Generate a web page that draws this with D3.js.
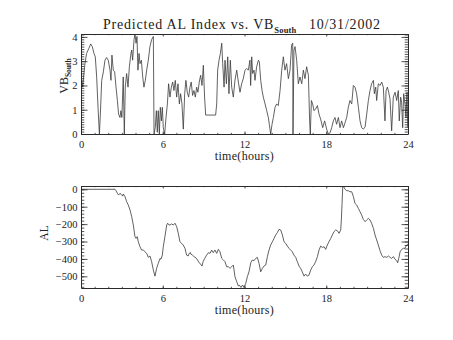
<!DOCTYPE html>
<html><head><meta charset="utf-8">
<script src="https://cdn.jsdelivr.net/npm/d3@7"></script>
<style>
body{margin:0;background:#fff}
text{font-family:"Liberation Serif","DejaVu Serif",serif;fill:#222}
</style></head>
<body><svg id="c" width="453" height="340"></svg>
<script>
// ---------------- data ----------------
const hourTicks = [0, 6, 12, 18, 24];
const hourMinor = d3.range(0, 25, 1);
const vbTicks = [0, 1, 2, 3, 4];
const vbMinor = d3.range(0, 4.11, 0.1);
const alTicks = [0, -100, -200, -300, -400, -500];
const alMinor = d3.range(-560, 1, 20);

const vbHours = [0,0.05,0.12,0.29,0.41,0.58,0.71,0.83,0.95,1.05,1.15,1.25,1.35,1.42,1.52,1.64,1.76,1.88,2.0,2.13,2.2,2.27,2.37,2.47,2.57,2.67,2.76,2.86,2.93,3.0,3.1,3.18,3.25,3.35,3.45,3.55,3.65,3.72,3.79,3.89,3.96,4.04,4.11,4.18,4.26,4.33,4.43,4.53,4.62,4.72,4.82,4.94,5.06,5.18,5.31,5.36,5.45,5.53,5.6,5.67,5.75,5.82,5.9,5.97,6.04,6.14,6.24,6.34,6.43,6.53,6.63,6.73,6.82,6.92,7.02,7.12,7.22,7.31,7.41,7.51,7.61,7.7,7.8,7.9,8.0,8.09,8.19,8.29,8.39,8.49,8.58,8.68,8.78,8.88,8.98,9.07,9.15,9.88,9.96,10.03,10.13,10.23,10.33,10.4,10.5,10.57,10.67,10.77,10.86,10.96,11.06,11.18,11.3,11.43,11.55,11.67,11.79,11.91,12.04,12.16,12.28,12.4,12.45,12.53,12.6,12.7,12.77,12.89,13.02,13.09,13.19,13.29,13.38,13.51,13.63,13.75,13.82,13.92,14.02,14.12,14.24,14.36,14.48,14.61,14.73,14.85,14.97,15.09,15.22,15.34,15.46,15.54,15.56,15.63,15.71,15.83,15.95,16.07,16.2,16.32,16.44,16.56,16.69,16.78,16.83,16.91,17.0,17.1,17.22,17.35,17.47,17.59,17.74,17.88,18.03,18.15,18.28,18.4,18.52,18.64,18.76,18.89,19.01,19.13,19.26,19.38,19.5,19.62,19.74,19.87,19.99,20.11,20.23,20.36,20.48,20.6,20.72,20.85,20.97,21.09,21.21,21.33,21.46,21.53,21.63,21.7,21.82,21.95,22.07,22.19,22.31,22.39,22.49,22.58,22.68,22.8,22.92,23.05,23.17,23.29,23.36,23.46,23.53,23.61,23.68,23.78,23.85,23.93,23.98];
const vbValues = [1.6,2.2,1.93,2.9,3.32,3.53,3.71,3.6,3.32,3.18,2.35,1.1,0,0.82,2.21,2.56,3.04,3.15,3.04,2.63,2.21,3.25,2.63,2.56,1.93,1.38,0.82,0.68,0.96,0.68,2.35,0,1.93,2.49,1.93,2.77,3.25,3.46,3.04,3.88,4.15,3.74,4.02,2.63,3.32,2.9,3.04,2.35,1.93,2.21,2.63,3.04,3.6,3.88,4.02,0,0.26,0.96,0.07,0.96,0,1.1,0.54,1.1,0.26,0,0.68,1.24,2.07,1.52,1.93,2.14,1.79,2.21,1.52,2.07,1.24,1.66,1.24,0.2,1.66,2.21,1.72,1.52,1.93,2.14,1.59,1.79,1.52,1.93,1.72,2.14,2.42,2.0,2.83,1.52,0.78,0.78,1.24,2.63,3.04,3.32,3.74,2.9,1.93,3.04,2.07,3.18,1.66,3.04,1.93,1.52,2.21,2.63,2.14,1.72,2.07,2.28,2.63,2.7,2.63,3.04,2.0,3.18,2.49,2.63,2.21,2.77,3.04,2.97,2.21,1.79,1.52,1.24,0.96,0.68,0.4,0,0.4,0.68,1.1,1.24,1.17,1.79,2.63,3.18,2.63,2.9,2.28,2.63,3.67,3.74,0,3.46,3.6,3.04,2.07,2.35,2.07,2.63,2.28,2.77,2.42,0.54,0,1.38,1.24,0.96,1.03,1.17,0.82,0.61,0.26,0.54,0.2,0,0.05,0.26,0.54,0.68,0.4,0.68,0.26,0.54,0.26,0.47,0.68,1.1,1.38,1.24,2.0,1.93,1.66,1.1,0.54,0.26,0.2,0.29,0.82,1.38,1.79,2.07,2.21,1.66,1.93,1.38,2.07,2.0,2.14,1.93,0.54,1.79,1.93,1.72,1.45,0.13,1.52,1.72,1.38,1.79,0.54,1.52,1.31,0.26,1.66,1.24,0.68,1.72,0.26];

const alHours = [0,2.5,2.57,2.67,2.76,2.86,2.96,3.06,3.1,3.23,3.35,3.47,3.6,3.72,3.84,3.96,4.04,4.13,4.2,4.33,4.45,4.57,4.7,4.82,4.94,5.06,5.18,5.31,5.43,5.55,5.67,5.8,5.87,5.97,6.04,6.16,6.29,6.36,6.46,6.53,6.65,6.78,6.9,7.02,7.14,7.26,7.38,7.5,7.63,7.75,7.87,7.94,8.04,8.06,8.18,8.3,8.43,8.55,8.67,8.8,8.88,8.96,9.08,9.22,9.35,9.47,9.59,9.71,9.83,9.96,10.08,10.2,10.33,10.45,10.57,10.69,10.82,10.94,11.06,11.18,11.3,11.43,11.55,11.62,11.74,11.86,11.96,12.09,12.21,12.33,12.46,12.58,12.7,12.82,12.94,13.07,13.19,13.31,13.43,13.56,13.68,13.8,13.92,14.05,14.17,14.29,14.41,14.53,14.66,14.78,14.9,15.02,15.14,15.27,15.39,15.51,15.63,15.76,15.88,16.0,16.12,16.24,16.37,16.49,16.61,16.73,16.86,16.98,17.1,17.22,17.35,17.47,17.59,17.71,17.84,17.96,18.08,18.2,18.33,18.45,18.57,18.69,18.82,18.94,19.06,19.11,19.16,19.21,19.28,19.38,19.5,19.62,19.74,19.87,19.99,20.11,20.23,20.36,20.48,20.6,20.72,20.85,20.97,21.09,21.21,21.33,21.46,21.58,21.7,21.82,21.95,22.07,22.19,22.31,22.44,22.56,22.68,22.8,22.93,23.05,23.17,23.24,23.32,23.42,23.54,23.66,23.78,23.9,24.0];
const alValues = [0,0,-8,-23,-33,-23,-30,-39,-27,-42,-71,-90,-119,-157,-205,-272,-282,-272,-300,-330,-349,-349,-359,-368,-391,-383,-414,-464,-499,-454,-426,-397,-402,-378,-330,-272,-205,-195,-205,-205,-199,-205,-195,-214,-253,-301,-310,-320,-339,-378,-383,-368,-364,-372,-378,-387,-393,-406,-422,-431,-441,-416,-397,-378,-364,-368,-349,-364,-349,-368,-345,-359,-397,-406,-416,-445,-445,-454,-445,-435,-502,-531,-556,-550,-564,-550,-564,-541,-502,-474,-422,-406,-410,-397,-391,-426,-474,-454,-441,-435,-387,-349,-320,-301,-282,-262,-249,-230,-234,-262,-301,-310,-326,-339,-349,-359,-378,-391,-416,-441,-454,-474,-499,-487,-499,-493,-464,-445,-435,-416,-387,-349,-326,-334,-330,-345,-320,-301,-282,-262,-243,-234,-238,-253,-234,-176,-81,15,15,0,-8,-8,-14,-14,-42,-81,-90,-110,-129,-148,-173,-186,-176,-167,-176,-195,-224,-262,-291,-320,-353,-378,-391,-387,-391,-383,-391,-397,-387,-402,-410,-422,-397,-359,-345,-339,-339,-320,-314];

// ---------------- drawing ----------------
const svg = d3.select("#c");
const X0 = 81, X1 = 408;
const ink = "#2a2a2a";

function panel(opt) {
  const x = d3.scaleLinear().domain([0, 24]).range([X0, X1]);
  const y = d3.scaleLinear().domain(opt.yDomain).range([opt.y1, opt.y0]);
  const g = svg.append("g");
  const id = "clip" + opt.name;
  svg.append("clipPath").attr("id", id).append("rect")
    .attr("x", X0).attr("y", opt.y0).attr("width", X1 - X0).attr("height", opt.y1 - opt.y0);

  const line = d3.line().x((d, i) => x(opt.hours[i])).y(d => y(d));
  g.append("path").datum(opt.values)
    .attr("clip-path", `url(#${id})`)
    .attr("d", line).attr("fill", "none").attr("stroke", "#3a3a3a").attr("stroke-width", 0.8);

  const style = s => {
    s.selectAll("path.domain").attr("stroke", ink).attr("stroke-width", 1);
    s.selectAll(".tick line").attr("stroke", ink).attr("stroke-width", 0.8);
    s.selectAll("text").attr("font-size", 10.5).attr("fill", "#222")
      .style("font-family", '"Liberation Serif","DejaVu Serif",serif');
  };
  const noDomain = s => { s.select("path.domain").remove(); s.selectAll(".tick line").attr("stroke", ink).attr("stroke-width", 0.8); };

  // minor ticks
  g.append("g").attr("transform", `translate(0,${opt.y1})`)
    .call(d3.axisBottom(x).tickValues(hourMinor).tickSize(-1.2).tickFormat("")).call(noDomain);
  g.append("g").attr("transform", `translate(0,${opt.y0})`)
    .call(d3.axisTop(x).tickValues(hourMinor).tickSize(-1.2).tickFormat("")).call(noDomain);
  g.append("g").attr("transform", `translate(${X0},0)`)
    .call(d3.axisLeft(y).tickValues(opt.minor).tickSize(-3.3).tickFormat("")).call(noDomain);
  g.append("g").attr("transform", `translate(${X1},0)`)
    .call(d3.axisRight(y).tickValues(opt.minor).tickSize(-3.3).tickFormat("")).call(noDomain);

  // major ticks
  g.append("g").attr("transform", `translate(0,${opt.y1})`)
    .call(d3.axisBottom(x).tickValues(hourTicks).tickSize(-2.5).tickSizeOuter(0).tickPadding(6.5).tickFormat(d3.format("d")))
    .call(style);
  g.append("g").attr("transform", `translate(0,${opt.y0})`)
    .call(d3.axisTop(x).tickValues(hourTicks).tickSize(-2.5).tickSizeOuter(0).tickFormat(""))
    .call(style);
  g.append("g").attr("transform", `translate(${X0},0)`)
    .call(d3.axisLeft(y).tickValues(opt.ticks).tickSize(-6.5).tickSizeOuter(0).tickPadding(3.5)
      .tickFormat(d => d < 0 ? "\u2212" + Math.abs(d) : String(d)))
    .call(style);
  g.append("g").attr("transform", `translate(${X1},0)`)
    .call(d3.axisRight(y).tickValues(opt.ticks).tickSize(-6.5).tickSizeOuter(0).tickFormat(""))
    .call(style);

  // x title
  g.append("text").attr("x", (X0 + X1) / 2).attr("y", opt.y1 + 26)
    .attr("text-anchor", "middle").attr("font-size", 12).attr("letter-spacing", 0.3).text("time(hours)");
  return g;
}

panel({name: "vb", y0: 34, y1: 134, yDomain: [0, 4.12], ticks: vbTicks, minor: vbMinor,
  hours: vbHours, values: vbValues});
panel({name: "al", y0: 186, y1: 288, yDomain: [-567, 19], ticks: alTicks, minor: alMinor,
  hours: alHours, values: alValues});

// title
const t = svg.append("text").attr("x", 103).attr("y", 28.5).attr("font-size", 14)
  .attr("letter-spacing", 0.8);
t.append("tspan").text("Predicted AL Index vs. VB");
t.append("tspan").attr("font-size", 8.5).attr("dy", 4.5).attr("letter-spacing", 0.2).style("font-weight", "bold").text("South");
t.append("tspan").attr("dy", -4.5).attr("x", 309).text("10/31/2002");

// y titles
const yl = svg.append("text").attr("transform", "translate(67.5,76) rotate(-90)")
  .attr("text-anchor", "middle").attr("font-size", 12);
yl.append("tspan").text("VB");
yl.append("tspan").attr("font-size", 7.5).attr("dy", 3.5).style("font-weight", "bold").text("South");

svg.append("text").attr("transform", "translate(47.5,233) rotate(-90)")
  .attr("text-anchor", "middle").attr("font-size", 11.5).text("AL");
</script></body></html>
